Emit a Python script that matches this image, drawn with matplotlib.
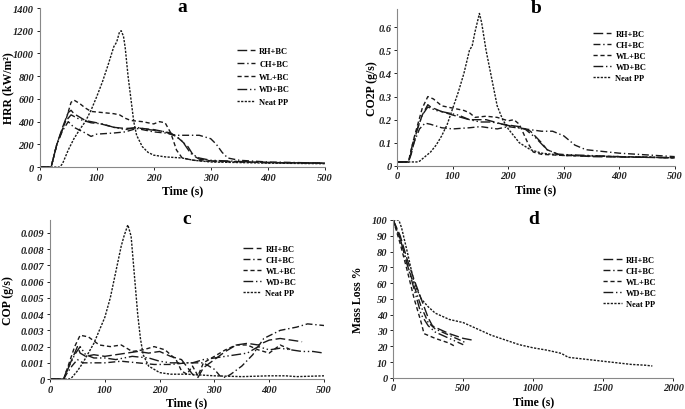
import matplotlib
matplotlib.use('Agg')
import matplotlib.pyplot as plt

plt.rcParams['font.family'] = ['Liberation Serif', 'DejaVu Serif']

series_names = ['RH+BC', 'CH+BC', 'WL+BC', 'WD+BC', 'Neat PP']

# Panel a: HRR (kW/m2)
hrr_t = {
    'RH+BC': [0, 20, 25, 30, 40, 50, 55, 60, 80, 100, 130, 150, 170, 200, 220, 240, 260, 270, 280, 300, 400, 500],
    'CH+BC': [0, 20, 30, 40, 50, 60, 80, 90, 100, 130, 150, 170, 200, 220, 240, 260, 280, 300, 310, 320, 330, 350, 400, 500],
    'WL+BC': [0, 20, 30, 45, 55, 60, 70, 80, 90, 110, 130, 140, 150, 160, 180, 200, 210, 220, 230, 240, 250, 270, 300, 400, 500],
    'WD+BC': [0, 20, 30, 45, 55, 70, 90, 110, 130, 150, 170, 190, 210, 230, 250, 265, 280, 300, 400, 500],
    'Neat PP': [0, 35, 40, 50, 60, 70, 80, 90, 100, 110, 120, 130, 135, 140, 143, 147, 150, 155, 160, 165, 170, 180, 190,
                200, 220, 250, 270, 300, 400, 500],
}
hrr_v = {
    'RH+BC': [0, 0, 100, 200, 350, 480, 500, 470, 410, 390, 350, 340, 345, 330, 310, 270, 180, 100, 70, 55, 40, 35],
    'CH+BC': [0, 0, 200, 320, 400, 350, 300, 270, 290, 300, 310, 340, 310, 300, 280, 280, 280, 250, 200, 130, 80, 60, 45, 35],
    'WL+BC': [0, 0, 200, 400, 570, 590, 560, 520, 490, 480, 470, 460, 430, 410, 400, 380, 400, 390, 300, 150, 80, 60, 50, 40, 35],
    'WD+BC': [0, 0, 200, 400, 460, 420, 390, 380, 350, 330, 350, 330, 320, 300, 230, 120, 80, 60, 40, 35],
    'Neat PP': [0, 0, 30, 150, 250, 330, 400, 500, 620, 750, 900, 1060, 1100, 1190, 1200, 1150, 1050, 800, 600, 400, 280,
                180, 130, 105, 90, 80, 60, 45, 35, 30],
}

# Panel b: CO2P (g/s)
co2_t = {
    'RH+BC': [0, 20, 25, 35, 45, 55, 60, 80, 100, 130, 160, 190, 220, 240, 260, 270, 290, 350, 500],
    'CH+BC': [0, 20, 30, 40, 50, 60, 80, 100, 130, 150, 180, 200, 230, 260, 280, 300, 320, 340, 400, 500],
    'WL+BC': [0, 20, 30, 45, 55, 65, 80, 100, 120, 130, 140, 160, 180, 200, 210, 220, 235, 245, 260, 300, 400, 500],
    'WD+BC': [0, 20, 30, 45, 55, 70, 90, 110, 130, 150, 170, 190, 210, 230, 250, 270, 290, 400, 500],
    'Neat PP': [0, 35, 40, 50, 60, 70, 80, 90, 100, 110, 120, 130, 135, 140, 148, 152, 160, 170, 180, 190, 200, 210,
                220, 240, 260, 300, 400, 500],
}
co2_v = {
    'RH+BC': [0.017, 0.017, 0.05, 0.15, 0.22, 0.265, 0.255, 0.235, 0.22, 0.2, 0.2, 0.18, 0.17, 0.15, 0.1, 0.07, 0.05, 0.04, 0.035],
    'CH+BC': [0.017, 0.017, 0.1, 0.16, 0.185, 0.18, 0.165, 0.16, 0.165, 0.17, 0.16, 0.17, 0.16, 0.15, 0.15, 0.13, 0.09,
              0.07, 0.055, 0.04],
    'WL+BC': [0.017, 0.017, 0.12, 0.25, 0.3, 0.29, 0.26, 0.25, 0.24, 0.23, 0.21, 0.215, 0.21, 0.195, 0.2, 0.18, 0.1,
              0.06, 0.05, 0.045, 0.04, 0.035],
    'WD+BC': [0.017, 0.017, 0.12, 0.22, 0.255, 0.24, 0.23, 0.22, 0.2, 0.19, 0.19, 0.18, 0.17, 0.16, 0.12, 0.07, 0.05, 0.04, 0.035],
    'Neat PP': [0.017, 0.017, 0.02, 0.04, 0.06, 0.09, 0.13, 0.18, 0.25, 0.32, 0.4, 0.5, 0.52, 0.58, 0.66, 0.62, 0.5,
                0.38, 0.26, 0.2, 0.16, 0.13, 0.1, 0.07, 0.055, 0.045, 0.04, 0.035],
}

# Panel c: COP (g/s)
cop_t = {
    'RH+BC': [0, 25, 30, 40, 50, 55, 65, 80, 100, 120, 140, 160, 180, 200, 220, 240, 260, 270, 280, 300, 320, 340, 360,
              380, 400, 420, 440, 460],
    'CH+BC': [0, 25, 30, 40, 50, 60, 80, 100, 130, 160, 190, 220, 250, 280, 300, 310, 320, 330, 350, 370, 390, 420, 450,
              470, 500],
    'WL+BC': [0, 25, 35, 45, 55, 70, 90, 110, 130, 150, 170, 190, 210, 230, 240, 250, 260, 270, 280, 300, 320, 340, 360,
              380, 400, 420, 440],
    'WD+BC': [0, 25, 35, 45, 55, 65, 80, 100, 120, 150, 180, 200, 220, 240, 260, 280, 300, 320, 340, 360, 380, 400, 420,
              440, 460, 480, 500],
    'Neat PP': [0, 35, 40, 50, 60, 70, 80, 90, 100, 110, 120, 130, 135, 142, 148, 155, 160, 165, 170, 180, 200, 220, 250,
                300, 350, 400, 430, 450, 500],
}
cop_v = {
    'RH+BC': [0, 0, 0.0005, 0.0012, 0.002, 0.0016, 0.0014, 0.0015, 0.0014, 0.0015, 0.0016, 0.0017, 0.0016, 0.0017,
              0.0014, 0.0012, 0.0003, 0.0001, 0.0007, 0.0012, 0.0017, 0.0021, 0.0022, 0.0021, 0.0024, 0.0025, 0.0024, 0.0023],
    'CH+BC': [0, 0, 0.0003, 0.0008, 0.0012, 0.001, 0.001, 0.001, 0.0011, 0.001, 0.0009, 0.0009, 0.001, 0.001, 0.0006,
              0.0002, 0.0001, 0.0003, 0.0008, 0.0015, 0.0025, 0.003, 0.0032, 0.0034, 0.0033],
    'WL+BC': [0, 0, 0.001, 0.002, 0.0027, 0.0026, 0.0021, 0.002, 0.0021, 0.0017, 0.0018, 0.002, 0.0018, 0.0012, 0.0005,
              0.0003, 0.0008, 0.0002, 0.001, 0.0014, 0.0018, 0.0021, 0.0021, 0.0018, 0.0016, 0.0021, 0.0018],
    'WD+BC': [0, 0, 0.0008, 0.0015, 0.002, 0.0015, 0.0013, 0.0013, 0.0012, 0.0014, 0.0013, 0.0011, 0.001, 0.001, 0.001,
              0.0012, 0.0013, 0.0014, 0.0015, 0.0016, 0.002, 0.0018, 0.0019, 0.0018, 0.0017, 0.0017, 0.0016],
    'Neat PP': [0, 0, 0.0001, 0.0005, 0.001, 0.0016, 0.0022, 0.003, 0.0038, 0.005, 0.0066, 0.0082, 0.0088, 0.0095,
                0.0088, 0.006, 0.004, 0.0025, 0.0015, 0.0008, 0.0004, 0.0003, 0.0003, 0.0002, 0.00015, 0.0002, 0.0002,
                0.00015, 0.0002],
}

# Panel d: mass loss %
mass_t = {
    'RH+BC': [0, 50, 100, 150, 200, 250, 280, 300, 400, 500, 560],
    'CH+BC': [0, 50, 100, 150, 200, 250, 300, 400, 500, 520],
    'WL+BC': [0, 50, 100, 150, 200, 220, 300, 400, 440],
    'WD+BC': [0, 50, 100, 150, 200, 250, 300, 400, 500],
    'Neat PP': [0, 40, 60, 100, 150, 200, 250, 300, 400, 500, 550, 600, 700, 800, 900, 1000, 1100, 1200, 1250, 1400,
                1500, 1600, 1700, 1800, 1850],
}
mass_v = {
    'RH+BC': [100, 90, 75, 62, 50, 38, 33, 32, 28, 25, 24],
    'CH+BC': [100, 88, 72, 58, 45, 35, 31, 27, 23, 22],
    'WL+BC': [100, 85, 68, 50, 35, 28, 25, 22, 20],
    'WD+BC': [100, 88, 72, 56, 40, 33, 29, 25, 21],
    'Neat PP': [100, 100, 95, 80, 60, 50, 45, 41, 37, 35, 33, 31, 27, 24, 21, 19, 17.5, 15.5, 13, 11.5, 10.5, 9.5, 8.5,
                8, 7.5],
}

dashes = {
    'RH+BC': (7, 2.5),
    'CH+BC': (5, 2, 1, 2),
    'WL+BC': (3, 2),
    'WD+BC': (7, 2, 1, 2, 1, 2),
    'Neat PP': (1.6, 1),
}
line_color = '#1a1a1a'

panels = [
    # letter, rect, t, v, ylabel, ylabel x, xlim, xticks, ylim, yticks, yfmt, legend anchor, legend spacing
    ('a', [0.058, 0.590, 0.416, 0.388], hrr_t, hrr_v, 'HRR (kW/m²)', -0.09, 500, range(0, 501, 100),
     1400, range(0, 1401, 200), '{:.0f}', (0.691, 0.755), 0.58),
    ('b', [0.580, 0.593, 0.405, 0.383], co2_t, co2_v, 'CO2P (g/s)', -0.068, 500, range(0, 501, 100),
     0.68, [0, 0.1, 0.2, 0.3, 0.4, 0.5, 0.6], '{:g}', (0.705, 0.866), 0.35),
    ('c', [0.073, 0.073, 0.400, 0.388], cop_t, cop_v, 'COP (g/s)', -0.131, 500, range(0, 501, 100),
     0.0098, [i / 1000 for i in range(10)], '{:g}', (0.704, 0.843), 0.35),
    ('d', [0.574, 0.076, 0.409, 0.385], mass_t, mass_v, 'Mass Loss %', -0.104, 2000, range(0, 2001, 500),
     100, range(0, 101, 10), '{:.0f}', (0.75, 0.772), 0.35),
]

fig = plt.figure(figsize=(6.85, 4.1), dpi=100)

for (letter, rect, tdata, vdata, ylabel, ylab_x, xmax, xticks, ymax, yticks, yfmt,
     anchor, spacing) in panels:
    ax = fig.add_axes(rect)
    for name in series_names:
        ax.plot(tdata[name], vdata[name], color=line_color, lw=1.0,
                dashes=dashes[name], label=name)
    ax.set_xlim(0, xmax)
    ax.set_ylim(0, ymax)
    ax.set_xticks(list(xticks))
    ax.set_yticks(list(yticks))
    ax.set_yticklabels([yfmt.format(y) for y in yticks])
    for lab in ax.get_xticklabels() + ax.get_yticklabels():
        lab.set_fontsize(7.5)
        lab.set_fontweight('bold')
        lab.set_fontstyle('italic')
        lab.set_color('#222222')
    ax.tick_params(length=2, width=0.6, pad=2)
    for side in ['top', 'right']:
        ax.spines[side].set_visible(False)
    for side in ['left', 'bottom']:
        ax.spines[side].set_color('#888888')
        ax.spines[side].set_linewidth(0.8)
    ax.set_xlabel('Time (s)', fontsize=8.5, fontweight='bold', labelpad=2)
    ax.set_ylabel(ylabel, fontsize=8.5, fontweight='bold')
    ax.yaxis.set_label_coords(ylab_x, 0.5)
    ax.set_title(letter, fontsize=14, fontweight='bold', pad=-2, y=1.0)
    leg = ax.legend(loc='upper left', bbox_to_anchor=anchor, frameon=False,
                    fontsize=6, handlelength=2.2, handletextpad=0.5,
                    labelspacing=spacing, borderpad=0, borderaxespad=0)
    for txt in leg.get_texts():
        txt.set_fontweight('bold')

fig.savefig('out.png', dpi=100)
